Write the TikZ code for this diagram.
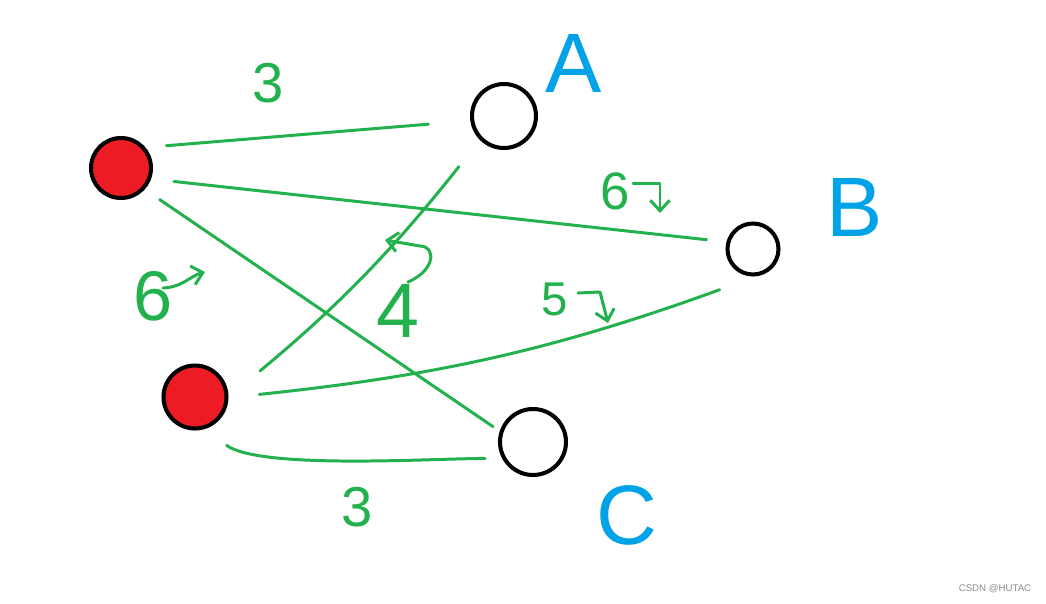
\documentclass[tikz,border=0pt]{standalone}
\usepackage{fontspec}
\setmainfont{Liberation Sans}
\usetikzlibrary{arrows.meta}
\definecolor{paintgreen}{HTML}{22B14C}
\definecolor{paintblue}{HTML}{00A2E8}
\definecolor{paintred}{HTML}{ED1C24}
\begin{document}
\begin{tikzpicture}[x=0.02cm,y=-0.02cm,
  src/.style={circle,draw=black,line width=2.3pt,fill=paintred,inner sep=0pt},
  dst/.style={circle,draw=black,line width=2.3pt,fill=white,inner sep=0pt},
  edge/.style={draw=paintgreen,line width=1.7pt,line cap=round},
  weight/.style={text=paintgreen,font=\fontsize{#1}{#1}\selectfont},
  tag/.style={text=paintblue,font=\fontsize{48}{48}\selectfont},
  hint/.style={draw=paintgreen,line width=1.7pt,line cap=round,line join=round,-{Straight Barb[length=6pt,width=11pt]}}]
\fill[white] (0,0) rectangle (1046,603);
\useasboundingbox (0,0) rectangle (1046,603);
% red ones on the left
\node[src,minimum size=1.2cm] (l1) at (121,168) {};
\node[src,minimum size=1.26cm] (l2) at (195,397) {};
% empty ones on the right
\node[dst,minimum size=1.28cm] (a) at (504,116) {};
\node[dst,minimum size=1.02cm] (b) at (753,249) {};
\node[dst,minimum size=1.32cm] (c) at (533,442) {};
\node[tag] (la) at (574,63) {A};
\node[tag] (lb) at (855,207) {B};
\node[tag] (lc) at (627,515) {C};
% edit here for the edges
\draw[edge,shorten <=0.42cm,shorten >=0.84cm] (l1.40) -- (a.188);
\draw[edge,shorten <=0.46cm,shorten >=0.40cm] (l1.-20) -- (b.165);
\draw[edge,shorten <=0.36cm,shorten >=0.16cm] (l1.-42) -- (c.162);
\draw[edge,shorten <=0.82cm,shorten >=0.68cm] (l2.0) to[bend right=6] (a.225);
\draw[edge,shorten <=0.62cm,shorten >=0.79cm] (l2.-1) to[bend right=7] (b.-82);
\draw[edge,shorten <=0.56cm,shorten >=0.34cm] (l2.-75) to[out=-35,in=180,looseness=0.6] (c.-152);
% edit here for the weights (name/x/y/size/text)
\foreach \nm/\lx/\ly/\sz/\txt in {w1/268/83/32/3, w2/357/507/32/3, w3/153/296/40/6, w4/398/311/44/4, w5/555/299/27/5, w6/615/191/30/6}
\node[weight=\sz] (\nm) at (\lx,\ly) {\txt};
% edit here for the little arrows
\draw[hint] (163,288) .. controls (183,287) and (190,276) .. (205,272);
\draw[hint] (408,282) .. controls (436,270) and (436,246) .. (420,246) -- (385,240);
\draw[hint] (578,293) -- (600,292) -- (608,323);
\draw[hint] (633,183) -- (660,183) -- (660,213);
\node[text=black!45,font=\fontsize{5.5}{6}\selectfont] (mark) at (995,589) {CSDN @HUTAC};
\end{tikzpicture}
\end{document}
